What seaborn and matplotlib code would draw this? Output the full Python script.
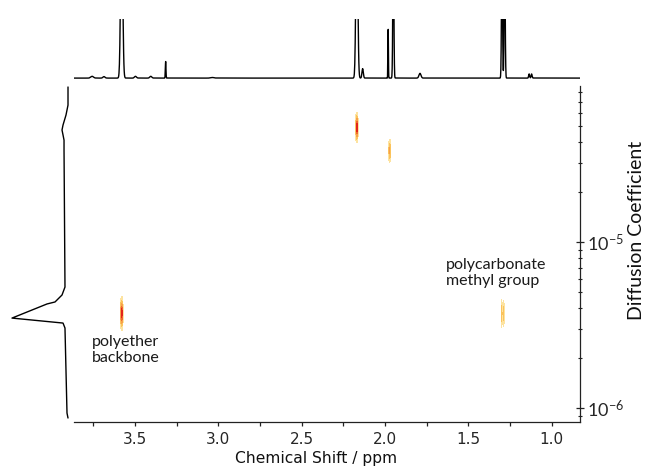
import numpy as np
import pandas as pd
import matplotlib
matplotlib.use("Agg")
import matplotlib.pyplot as plt
import seaborn as sns
from matplotlib.ticker import MultipleLocator, LogLocator, NullFormatter, FormatStrFormatter

# ---------------- data ----------------
# 1D 1H spectrum peaks: position (ppm), height (rel. to clip level), gaussian width (ppm)
h1_ppm    = [3.757, 3.686, 3.580, 3.497, 3.405, 3.316, 3.035, 2.169, 2.134, 1.981, 1.950, 1.790, 1.298, 1.282, 1.135, 1.120]
h1_height = [0.030, 0.025, 3.000, 0.030, 0.030, 0.280, 0.010, 3.000, 0.160, 0.850, 2.500, 0.080, 2.200, 2.200, 0.070, 0.070]
h1_width  = [0.008, 0.006, 0.0060, 0.006, 0.006, 0.0018, 0.010, 0.0055, 0.004, 0.0015, 0.0030, 0.006, 0.0030, 0.0030, 0.003, 0.003]

# Diffusion projection (log10 D, relative intensity)
proj_logD = [-4.066, -4.175, -4.235, -4.295, -4.325, -4.355, -4.386, -4.446, -5.271, -5.319,
             -5.361, -5.373, -5.458, -5.488, -5.518, -6.030, -6.060]
proj_int  = [0.000, 0.000, 0.036, 0.089, 0.107, 0.089, 0.071, 0.071, 0.054, 0.107,
             0.232, 0.375, 1.000, 0.089, 0.054, 0.018, 0.000]

# 2D DOSY cross peaks
dosy_ppm   = [3.580, 2.169, 1.972, 1.300, 1.288]
dosy_logD  = [-5.430, -4.310, -4.450, -5.430, -5.430]
dosy_amp   = [1.00, 1.00, 0.55, 0.50, 0.42]
dosy_sppm  = [0.0045, 0.0042, 0.0040, 0.0020, 0.0020]
dosy_slogD = [0.050, 0.045, 0.040, 0.050, 0.050]

x_ticks = [3.5, 3.0, 2.5, 2.0, 1.5, 1.0]
annotations = [("polyether\nbackbone", 3.758, -5.560),
               ("polycarbonate\nmethyl group", 1.635, -5.096)]

contour_levels = [0.12, 0.30, 0.50, 0.70, 0.86, 1.05]
contour_colors = ["#fde3a0", "#fbc35c", "#f7a04a", "#ef6530", "#e3231c"]

# ---------------- figure ----------------
sns.set_theme(style="white")
plt.rcParams["font.family"] = ["DejaVu Sans"]
plt.rcParams["mathtext.default"] = "regular"
plt.rcParams["axes.unicode_minus"] = False

W, H = 648, 467
fig = plt.figure(figsize=(W / 100, H / 100), dpi=100)

def px_axes(l, t, r, b, **kw):
    return fig.add_axes([l / W, 1 - b / H, (r - l) / W, (b - t) / H], **kw)

ax = px_axes(74, 86, 580, 422)
ax_top = px_axes(74, 19, 580, 84, sharex=ax)
ax_left = px_axes(6, 86, 74, 422, sharey=ax)

ax.set_yscale("log")
xlim = (3.866, 0.83)
ylim = (10 ** -6.084, 10 ** -4.060)

# 2D contour map
ppm_grid = np.linspace(xlim[1], xlim[0], 3600)
logD_grid = np.linspace(-6.084, -4.060, 400)
P, L = np.meshgrid(ppm_grid, logD_grid)
Z = np.zeros_like(P)
for p0, d0, a, sp, sd in zip(dosy_ppm, dosy_logD, dosy_amp, dosy_sppm, dosy_slogD):
    Z += a * np.exp(-0.5 * ((P - p0) / sp) ** 2 - 0.5 * ((L - d0) / sd) ** 2)
ax.contourf(P, 10 ** L, Z, levels=contour_levels, colors=contour_colors)

# top 1D spectrum
spec = np.zeros_like(ppm_grid)
for p0, h, w in zip(h1_ppm, h1_height, h1_width):
    spec += h * np.exp(-0.5 * ((ppm_grid - p0) / w) ** 2)
df_top = pd.DataFrame({"ppm": ppm_grid, "I": spec})
sns.lineplot(data=df_top, x="ppm", y="I", ax=ax_top, color="black", lw=1.0,
             estimator=None, sort=False)
ax_top.set_ylim(-0.10, 1.0)

# left projection
df_left = pd.DataFrame({"D": 10 ** np.array(proj_logD), "I": proj_int})
sns.lineplot(data=df_left, x="I", y="D", ax=ax_left, color="black", lw=1.0,
             estimator=None, sort=False, orient="y")
ax_left.set_xlim(1.107, -0.107)

ax.set_xlim(*xlim)
ax.set_ylim(*ylim)

for a in (ax_top, ax_left):
    for s in a.spines.values():
        s.set_visible(False)
    a.set_xlabel("")
    a.set_ylabel("")
    a.tick_params(left=False, bottom=False, labelleft=False, labelbottom=False,
                  right=False, labelright=False, which="both")
ax_top.set_yticks([])
ax_left.set_xticks([])

# main axes styling
ax.spines["top"].set_visible(False)
ax.spines["left"].set_visible(False)
for s in ("bottom", "right"):
    ax.spines[s].set_color("#222222")
    ax.spines[s].set_linewidth(0.9)

ax.xaxis.set_major_locator(MultipleLocator(0.5))
ax.xaxis.set_minor_locator(MultipleLocator(0.25))
ax.xaxis.set_major_formatter(FormatStrFormatter("%.1f"))
ax.set_xticks(x_ticks)
ax.tick_params(axis="x", which="both", direction="out", length=3, width=0.9,
               color="#222222", labelsize=11, pad=4, bottom=True)

ax.yaxis.tick_right()
ax.yaxis.set_major_locator(LogLocator(base=10))
ax.yaxis.set_minor_locator(LogLocator(base=10, subs=np.arange(2, 10)))
ax.yaxis.set_minor_formatter(NullFormatter())
ax.tick_params(axis="y", which="major", direction="inout", length=6, width=0.9,
               color="#222222", labelsize=13, pad=2, right=True, left=False,
               labelfontfamily="Lato")
ax.tick_params(axis="y", which="minor", direction="inout", length=3.5, width=0.8,
               color="#222222", right=True, left=False)
ax.set_xlabel("")
ax.set_ylabel("")
ax.grid(False)

for txt, px, ld in annotations:
    ax.text(px, 10 ** ld, txt, ha="left", va="top", fontsize=11.5,
            family="Lato", color="#1a1a1a", linespacing=1.15)

fig.text(316 / W, 1 - 458 / H, "Chemical Shift / ppm", ha="center", va="center",
         fontsize=11.2, color="#111111")
fig.text(636 / W, 1 - 230 / H, "Diffusion Coefficient", ha="center", va="center",
         rotation=90, fontsize=14, family="Lato", color="#111111")

fig.savefig("out.png", dpi=100)
